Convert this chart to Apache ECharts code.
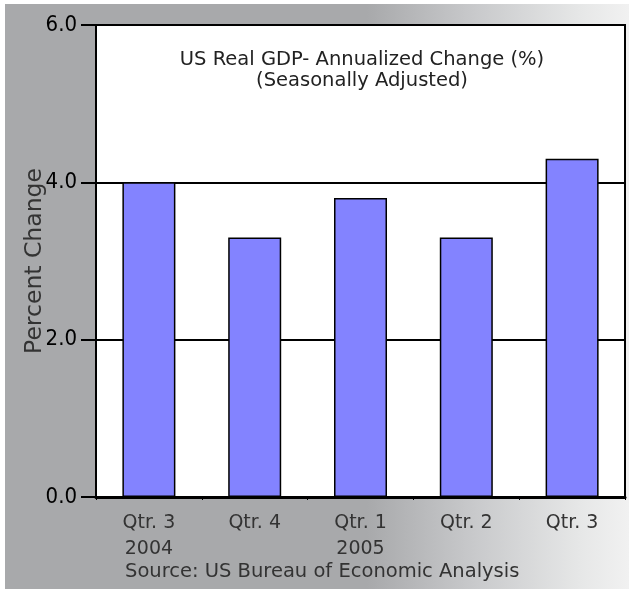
<!DOCTYPE html>
<html>
<head>
<meta charset="utf-8">
<script src="https://cdn.jsdelivr.net/npm/echarts@6/dist/echarts.min.js"></script>
<style>
  body { margin: 0; background: #fff; }
  #bg {
    position: absolute; left: 5px; top: 4px; width: 624px; height: 585px;
    background: linear-gradient(to right, #a8a9ab 0%, #a8a9ab 58%, #c8c9cb 75%, #e6e7e7 92%, #f1f1f1 100%);
  }
  #mychart { position: absolute; left: 0; top: 0; width: 629px; height: 592px; }
</style>
</head>
<body>
<div id="bg"></div>
<div id="mychart"></div>
<script>
// quarters and annualized GDP change
let quarters = ['Qtr. 3\n2004', 'Qtr. 4', 'Qtr. 1\n2005', 'Qtr. 2', 'Qtr. 3']
let gdpChange = [4.0, 3.3, 3.8, 3.3, 4.3]
let yTicks = [0, 2, 4, 6]

let narrow = '"Liberation Sans Narrow", "DejaVu Sans Condensed", sans-serif'
let plain = '"DejaVu Sans", sans-serif'

let myChart = echarts.init(document.getElementById('mychart'))

myChart.setOption({
    backgroundColor: 'transparent',
    animation: false,
    title: {
        text: 'US Real GDP- Annualized Change (%)\n(Seasonally Adjusted)',
        left: 357,
        top: 44,
        textAlign: 'center',
        textStyle: {
            fontFamily: plain, fontSize: 19.5, fontWeight: 'normal',
            color: '#222', lineHeight: 21, align: 'center'
        }
    },
    grid: {
        left: 96, right: 4, top: 25, bottom: 95,
        show: true, backgroundColor: '#fff',
        borderColor: '#000', borderWidth: 2
    },
    xAxis: {
        type: 'category',
        data: quarters,
        axisLine: { lineStyle: { color: '#000', width: 3 } },
        axisTick: { show: true, length: 3, lineStyle: { color: '#000', width: 1 } },
        axisLabel: {
            margin: 13, color: '#333', fontFamily: plain, fontSize: 19, lineHeight: 26
        }
    },
    yAxis: {
        type: 'value',
        min: yTicks[0], max: yTicks[yTicks.length - 1], interval: 2,
        name: 'Percent Change',
        nameLocation: 'middle',
        nameGap: 49,
        nameMoveOverlap: false,
        nameTextStyle: { fontFamily: plain, fontSize: 23.5, color: '#333' },
        axisLine: { show: true, lineStyle: { color: '#000', width: 2 } },
        axisTick: { show: true, length: 15, lineStyle: { color: '#000', width: 2 } },
        splitLine: { show: true, lineStyle: { color: '#000', width: 2 } },
        axisLabel: {
            margin: 19, color: '#000', fontFamily: narrow, fontSize: 22,
            formatter: v => v.toFixed(1)
        }
    },
    series: [{
        type: 'bar',
        data: gdpChange,
        barWidth: 53,
        z: 5,
        itemStyle: { color: '#8383ff', borderColor: '#000', borderWidth: 1.5 }
    }],
    graphic: [{
        type: 'text',
        left: 125,
        top: 562,
        style: {
            text: 'Source: US Bureau of Economic Analysis',
            fontFamily: plain, fontSize: 19.5, fill: '#333'
        }
    }]
})
</script>
</body>
</html>
